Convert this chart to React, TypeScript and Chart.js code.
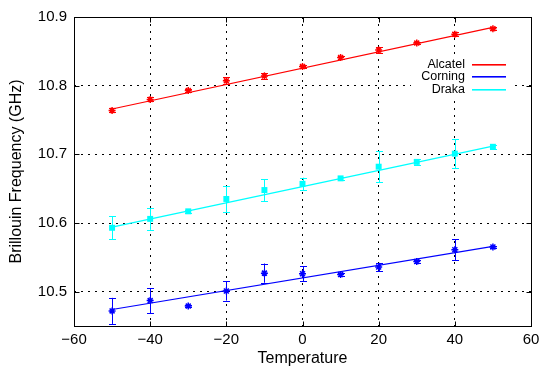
import React, { useEffect, useRef } from 'react';
import { Chart, registerables } from 'chart.js';

Chart.register(...registerables);

// ---- data ----
const temps = [-50, -40, -30, -20, -10, 0, 10, 20, 30, 40, 50];

const alcatel = [10.764, 10.780, 10.793, 10.807, 10.814, 10.828, 10.841, 10.852, 10.862, 10.875, 10.883];
const alcatelErr = [0.003, 0.003, 0.002, 0.005, 0.005, 0.002, 0.002, 0.004, 0.002, 0.003, 0.002];

const corning = [10.472, 10.487, 10.479, 10.501, 10.527, 10.526, 10.525, 10.536, 10.544, 10.561, 10.565];
const corningErr = [0.019, 0.018, 0.002, 0.014, 0.014, 0.011, 0.002, 0.006, 0.002, 0.015, 0.002];

const draka = [10.593, 10.606, 10.617, 10.635, 10.648, 10.657, 10.665, 10.682, 10.689, 10.701, 10.711];
const drakaErr = [0.017, 0.016, 0.002, 0.019, 0.016, 0.009, 0.002, 0.023, 0.004, 0.021, 0.003];

const fitX = [-50, 50];
const alcatelFit = [10.766, 10.885];
const corningFit = [10.474, 10.566];
const drakaFit = [10.594, 10.712];

const seriesNames = ['Alcatel', 'Corning', 'Draka'];
const seriesColors = ['#ff0000', '#0000ff', '#00ffff'];

const xTicks = [-60, -40, -20, 0, 20, 40, 60];
const yTicks = [10.5, 10.6, 10.7, 10.8, 10.9];

const FONT = '"Liberation Sans", Arial, Helvetica, sans-serif';

const errorBarPlugin = {
  id: 'errorBars',
  beforeDatasetsDraw(chart: any) {
    const { ctx, scales } = chart;
    const xs = scales.x;
    const ys = scales.y;
    chart.data.datasets.forEach((ds: any) => {
      if (!ds.errors) return;
      ctx.save();
      ctx.setLineDash([]);
      ctx.strokeStyle = ds.borderColor;
      ctx.lineWidth = 1;
      ds.data.forEach((p: any, i: number) => {
        const e = ds.errors[i];
        const px = Math.round(xs.getPixelForValue(p.x)) + 0.5;
        const y1 = ys.getPixelForValue(p.y - e);
        const y2 = ys.getPixelForValue(p.y + e);
        ctx.beginPath();
        ctx.moveTo(px, y1);
        ctx.lineTo(px, y2);
        ctx.moveTo(px - 3.5, Math.round(y1) + 0.5);
        ctx.lineTo(px + 3.5, Math.round(y1) + 0.5);
        ctx.moveTo(px - 3.5, Math.round(y2) + 0.5);
        ctx.lineTo(px + 3.5, Math.round(y2) + 0.5);
        ctx.stroke();
      });
      ctx.restore();
    });
  },
};

const legendPlugin = {
  id: 'gnuLegend',
  afterDatasetsDraw(chart: any) {
    const { ctx, chartArea } = chart;
    const right = chartArea.right;
    const top = chartArea.top;
    ctx.save();
    ctx.setLineDash([]);
    ctx.globalAlpha = 1;
    ctx.fillStyle = '#ffffff';
    ctx.fillRect(right - 120, top + 41, 102, 38);
    ctx.font = `12.5px ${FONT}`;
    ctx.textAlign = 'right';
    ctx.textBaseline = 'middle';
    for (let i = 0; i < seriesNames.length; i++) {
      const yc = Math.round(top + 47 + i * 12.3);
      ctx.fillStyle = '#000000';
      ctx.fillText(seriesNames[i], right - 66, yc + 1);
      ctx.fillStyle = seriesColors[i];
      ctx.fillRect(Math.round(right - 59), yc, 34, 1.6);
    }
    ctx.restore();
  },
};

const framePlugin = {
  id: 'frame',
  afterDraw(chart: any) {
    const { ctx, chartArea, scales } = chart;
    const l = Math.round(chartArea.left) + 0.5;
    const r = Math.round(chartArea.right) + 0.5;
    const t = Math.round(chartArea.top) + 0.5;
    const b = Math.round(chartArea.bottom) + 0.5;
    ctx.save();
    ctx.setLineDash([]);
    ctx.strokeStyle = '#000';
    ctx.lineWidth = 1;
    ctx.strokeRect(l, t, r - l, b - t);
    const tl = 5;
    ctx.beginPath();
    xTicks.forEach((v) => {
      const px = Math.round(scales.x.getPixelForValue(v)) + 0.5;
      ctx.moveTo(px, b);
      ctx.lineTo(px, b - tl);
      ctx.moveTo(px, t);
      ctx.lineTo(px, t + tl);
    });
    yTicks.forEach((v) => {
      const py = Math.round(scales.y.getPixelForValue(v)) + 0.5;
      ctx.moveTo(l, py);
      ctx.lineTo(l + tl, py);
      ctx.moveTo(r, py);
      ctx.lineTo(r - tl, py);
    });
    ctx.stroke();
    ctx.restore();
  },
};

export default function App() {
  const ref = useRef<HTMLCanvasElement>(null);

  useEffect(() => {
    document.body.style.margin = '0';
    const canvas = ref.current;
    if (!canvas) return;
    const pts = (vals: number[]) => temps.map((t, i) => ({ x: t, y: vals[i] }));
    const fit = (vals: number[]) => fitX.map((x, i) => ({ x, y: vals[i] }));

    const chart = new Chart(canvas, {
      type: 'scatter',
      data: {
        datasets: [
          { label: 'Alcatel fit', data: fit(alcatelFit), showLine: true, borderColor: seriesColors[0], borderWidth: 1.2, pointRadius: 0 },
          { label: 'Corning fit', data: fit(corningFit), showLine: true, borderColor: seriesColors[1], borderWidth: 1.2, pointRadius: 0 },
          { label: 'Draka fit', data: fit(drakaFit), showLine: true, borderColor: seriesColors[2], borderWidth: 1.4, pointRadius: 0 },
          { label: 'Alcatel', data: pts(alcatel), errors: alcatelErr, showLine: false, pointStyle: 'star', pointRadius: 3.5, borderWidth: 1.5, borderColor: seriesColors[0], backgroundColor: seriesColors[0] } as any,
          { label: 'Corning', data: pts(corning), errors: corningErr, showLine: false, pointStyle: 'star', pointRadius: 3.5, borderWidth: 1.5, borderColor: seriesColors[1], backgroundColor: seriesColors[1] } as any,
          { label: 'Draka', data: pts(draka), errors: drakaErr, showLine: false, pointStyle: 'rect', pointRadius: 4.2, borderWidth: 0, borderColor: seriesColors[2], backgroundColor: seriesColors[2] } as any,
        ],
      },
      options: {
        animation: false,
        responsive: false,
        devicePixelRatio: 1,
        layout: { padding: { top: 17, right: 19, left: 0, bottom: 0 } },
        plugins: { legend: { display: false }, tooltip: { enabled: false } },
        scales: {
          x: {
            type: 'linear',
            min: -60,
            max: 60,
            afterBuildTicks: (s: any) => { s.ticks = xTicks.map((v) => ({ value: v })); },
            afterFit: (s: any) => { s.height = 46; },
            ticks: {
              padding: 5,
              color: '#000',
              font: { family: FONT, size: 15 },
              callback: (v: any) => String(v).replace('-', '\u2212'),
            },
            grid: { color: '#000', lineWidth: 1, drawTicks: false },
            border: { display: false, dash: [2, 5] },
            title: { display: true, text: 'Temperature', color: '#000', font: { family: FONT, size: 16 }, padding: { top: 0, bottom: 4 } },
          },
          y: {
            type: 'linear',
            min: 10.45,
            max: 10.9,
            afterBuildTicks: (s: any) => { s.ticks = yTicks.map((v) => ({ value: v })); },
            afterFit: (s: any) => { s.width = 74; },
            ticks: {
              padding: 7,
              color: '#000',
              font: { family: FONT, size: 15 },
              callback: (v: any) => Number(v).toFixed(1),
            },
            grid: { color: '#000', lineWidth: 1, drawTicks: false },
            border: { display: false, dash: [2, 5] },
            title: { display: true, text: 'Brillouin Frequency (GHz)', color: '#000', font: { family: FONT, size: 16 }, padding: { top: 7, bottom: 0 } },
          },
        },
      },
      plugins: [errorBarPlugin, legendPlugin, framePlugin],
    });
    return () => chart.destroy();
  }, []);

  return (
    <div style={{ width: 550, height: 372 }}>
      <canvas ref={ref} width={550} height={372} style={{ display: 'block' }} />
    </div>
  );
}
